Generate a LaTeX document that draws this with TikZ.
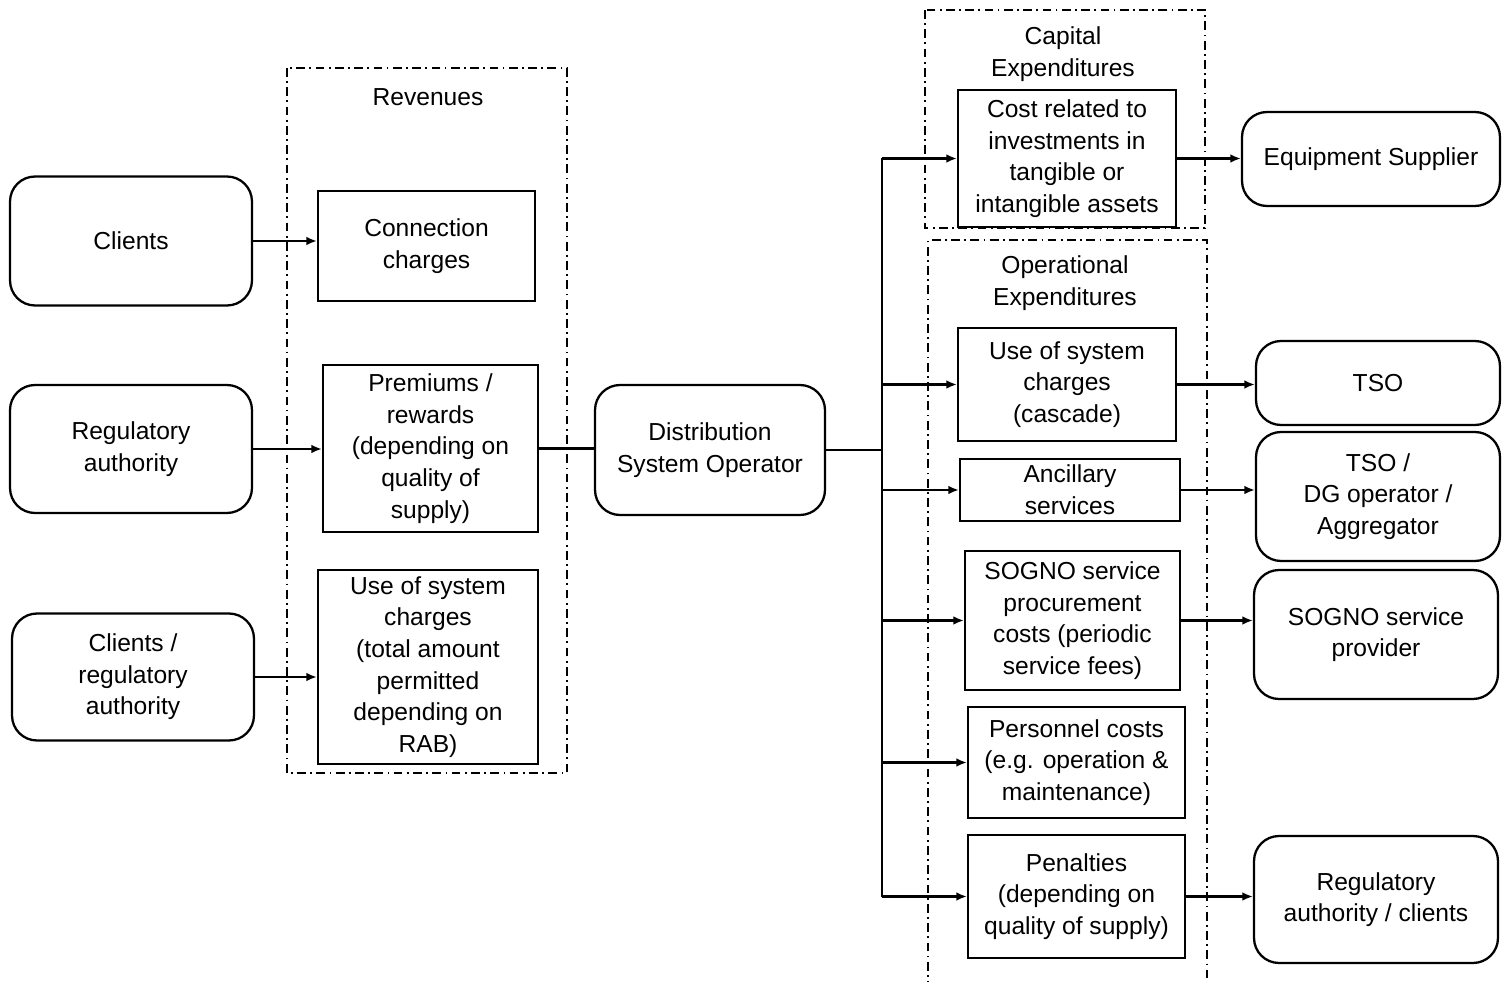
\documentclass[tikz,border=0pt]{standalone}
\usepackage{fontspec}
\setmainfont{Liberation Sans}
\usepackage{tikz}
\usetikzlibrary{arrows.meta,positioning,calc}

\begin{document}
\begin{tikzpicture}[
  x=0.02cm, y=-0.02cm,
  font=\fontsize{14}{18}\selectfont,
  party/.style={rectangle, rounded corners=0.5cm, draw=black, line width=1.3pt, align=center, inner sep=2pt},
  item/.style={rectangle, draw=black, line width=1.3pt, align=center, inner sep=2pt},
  caption/.style={align=center, inner sep=1pt},
  group/.style={draw=black, line width=1pt, dash pattern=on 5pt off 2.5pt on 1pt off 2.5pt},
  flow/.style={-{Latex[length=6pt,width=5pt]}, line width=1.2pt},
  link/.style={line width=1.2pt}
]
\useasboundingbox (0,0) rectangle (1505,982);

% revenue side
\draw[group] (287,68) rectangle (567,773);
\node[caption] (revlabel) at (428,97) {Revenues};
\node[party, minimum width=4.84cm, minimum height=2.58cm] (clients) at (131,241) {Clients};
\node[party, minimum width=4.84cm, minimum height=2.56cm] (regauth) at (131,449) {Regulatory\\authority};
\node[party, minimum width=4.84cm, minimum height=2.54cm] (clireg) at (133,677) {Clients /\\regulatory\\authority};
\node[item, minimum width=4.34cm, minimum height=2.2cm] (conn) at (426.5,246) {Connection\\charges};
\node[item, minimum width=4.3cm, minimum height=3.34cm] (prem) at (430.5,448.5) {Premiums /\\rewards\\(depending on\\quality of\\supply)};
\node[item, minimum width=4.4cm, minimum height=3.88cm] (uos) at (428,667) {Use of system\\charges\\(total amount\\permitted\\depending on\\RAB)};

\draw[flow] (clients.east) -- (clients.east -| conn.west);
\draw[flow] (regauth.east) -- (regauth.east -| prem.west);
\draw[flow] (clireg.east) -- (clireg.east -| uos.west);

% operator
\node[party, minimum width=4.6cm, minimum height=2.6cm] (dso) at (710,450) {Distribution\\System Operator};
\draw[link] (prem.east) -- (prem.east -| dso.west);

% expenditure side
\draw[group] (925,10) rectangle (1205,228);
\node[caption] (capexlabel) at (1063,54) {Capital\\Expenditures};
\draw[group] (928,990) -- (928,240) -- (1207,240) -- (1207,990);
\node[caption] (opexlabel) at (1065,283) {Operational\\Expenditures};

\node[item, minimum width=4.36cm, minimum height=2.74cm] (cost) at (1067,158.5) {Cost related to\\investments in\\tangible or\\intangible assets};
\node[item, minimum width=4.36cm, minimum height=2.26cm] (uosc) at (1067,384.5) {Use of system\\charges\\(cascade)};
\node[item, minimum width=4.4cm, minimum height=1.24cm] (anc) at (1070,490) {Ancillary\\services};
\node[item, minimum width=4.3cm, minimum height=2.78cm] (sogno) at (1072.5,620.5) {SOGNO service\\procurement\\costs (periodic\\service fees)};
\node[item, minimum width=4.34cm, minimum height=2.22cm] (pers) at (1076.5,762.5) {Personnel costs\\(e.g. operation \&\\maintenance)};
\node[item, minimum width=4.34cm, minimum height=2.46cm] (pen) at (1076.5,896.5) {Penalties\\(depending on\\quality of supply)};

\node[party, minimum width=5.16cm, minimum height=1.88cm] (equip) at (1371,159) {Equipment Supplier};
\node[party, minimum width=4.88cm, minimum height=1.68cm] (tso) at (1378,383) {TSO};
\node[party, minimum width=4.88cm, minimum height=2.58cm] (tsodg) at (1378,496.5) {TSO /\\DG operator /\\Aggregator};
\node[party, minimum width=4.88cm, minimum height=2.58cm] (sognop) at (1376,634.5) {SOGNO service\\provider};
\node[party, minimum width=4.88cm, minimum height=2.54cm] (regcl) at (1376,899.5) {Regulatory\\authority / clients};

% trunk from the operator
\coordinate (trunk) at (882,450);
\draw[link] (dso.east) -- (trunk);
\draw[link] (trunk |- cost) -- (trunk |- pen);
\draw[flow] (trunk |- cost) -- (cost.west);
\draw[flow] (trunk |- uosc) -- (uosc.west);
\draw[flow] (trunk |- anc) -- (anc.west);
\draw[flow] (trunk |- sogno) -- (sogno.west);
\draw[flow] (trunk |- pers) -- (pers.west);
\draw[flow] (trunk |- pen) -- (pen.west);

% payments out
\draw[flow] (cost.east) -- (cost.east -| equip.west);
\draw[flow] (uosc.east) -- (uosc.east -| tso.west);
\draw[flow] (anc.east) -- (anc.east -| tsodg.west);
\draw[flow] (sogno.east) -- (sogno.east -| sognop.west);
\draw[flow] (pen.east) -- (pen.east -| regcl.west);
\end{tikzpicture}
\end{document}
